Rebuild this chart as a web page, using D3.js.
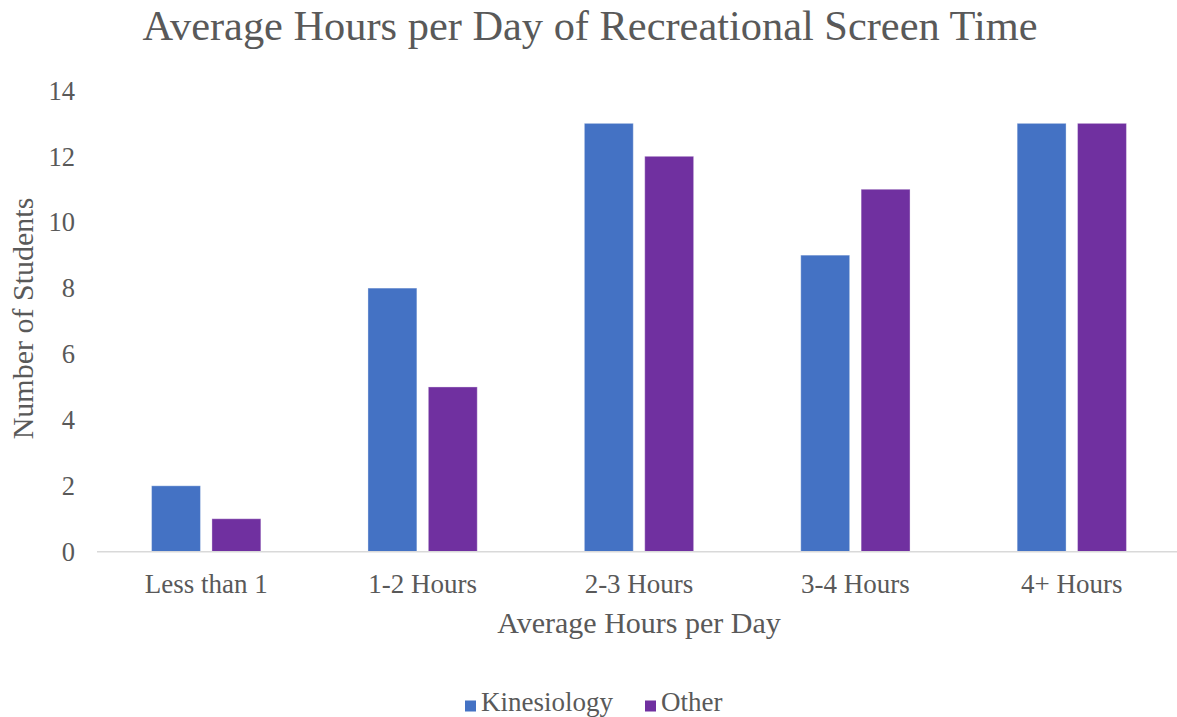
<!DOCTYPE html>
<html>
<head>
<meta charset="utf-8">
<script src="https://cdn.jsdelivr.net/npm/d3@7"></script>
<style>
  body { margin: 0; background: #fff; }
  text { font-family: "Liberation Serif", "Times New Roman", serif; fill: #595959; }
</style>
</head>
<body>
<svg id="chart"></svg>
<script>
const categories = ['Less than 1', '1-2 Hours', '2-3 Hours', '3-4 Hours', '4+ Hours'];
const seriesNames = ['Kinesiology', 'Other'];
const kinesiology = [2, 8, 13, 9, 13];
const other = [1, 5, 12, 11, 13];
const yTicks = [0, 2, 4, 6, 8, 10, 12, 14];
const colors = ['#4472C4', '#7030A0'];

const width = 1177,
    height = 717,
    plotLeft = 98,
    plotRight = 1180,
    plotTop = 90.4,
    plotBottom = 551.7;

var svg = d3.select('#chart')
    .attr('width', width)
    .attr('height', height);

var x = d3.scaleBand()
    .domain(categories)
    .range([plotLeft, plotRight]);

// two bars per category, ~49px wide with a small gap between them
var barW = x.bandwidth() * 0.226,
    barGap = x.bandwidth() * 0.053;

var y = d3.scaleLinear()
    .domain([0, 14])
    .range([plotBottom, plotTop]);

var rows = categories.map((c, i) => ({ cat: c, values: [kinesiology[i], other[i]] }));

// Title
svg.append('text')
    .attr('x', 590)
    .attr('y', 40)
    .attr('text-anchor', 'middle')
    .style('font-size', '42.4px')
    .text('Average Hours per Day of Recreational Screen Time');

// Y tick labels
svg.append('g')
    .selectAll('text')
    .data(yTicks)
    .join('text')
    .attr('x', 75)
    .attr('y', d => y(d))
    .attr('dy', '0.35em')
    .attr('text-anchor', 'end')
    .style('font-size', '26.5px')
    .text(d => d);

// Bars
var groups = svg.append('g')
    .selectAll('g')
    .data(rows)
    .join('g');

groups.selectAll('rect')
    .data(d => d.values.map((v, j) => ({ cat: d.cat, v: v, j: j })))
    .join('rect')
    .attr('x', d => {
        var c = x(d.cat) + x.bandwidth() / 2;
        return d.j === 0 ? c - barGap / 2 - barW : c + barGap / 2;
    })
    .attr('y', d => y(d.v))
    .attr('width', barW)
    .attr('height', d => y(0) - y(d.v))
    .attr('fill', d => colors[d.j])
    .attr('stroke', '#ffffff')
    .attr('stroke-opacity', 0.35)
    .attr('stroke-width', 1);

// Baseline
svg.append('line')
    .attr('x1', plotLeft - 1)
    .attr('x2', plotRight)
    .attr('y1', y(0))
    .attr('y2', y(0))
    .attr('stroke', '#d9d9d9')
    .attr('stroke-width', 1.5);

// X tick labels
svg.append('g')
    .selectAll('text')
    .data(categories)
    .join('text')
    .attr('x', d => x(d) + x.bandwidth() / 2)
    .attr('y', 593)
    .attr('text-anchor', 'middle')
    .style('font-size', '27px')
    .text(d => d);

// Axis titles
svg.append('text')
    .attr('x', 639)
    .attr('y', 633)
    .attr('text-anchor', 'middle')
    .style('font-size', '30px')
    .text('Average Hours per Day');

svg.append('text')
    .attr('transform', 'translate(33,318.5) rotate(-90)')
    .attr('text-anchor', 'middle')
    .style('font-size', '30px')
    .text('Number of Students');

// Legend
var legendX = [465, 645];
var legend = svg.append('g')
    .selectAll('g')
    .data(seriesNames)
    .join('g')
    .attr('transform', (d, i) => 'translate(' + legendX[i] + ',0)');

legend.append('rect')
    .attr('x', 0)
    .attr('y', 700.5)
    .attr('width', 11)
    .attr('height', 11)
    .attr('fill', (d, i) => colors[i]);

legend.append('text')
    .attr('x', 16)
    .attr('y', 711)
    .style('font-size', '27px')
    .text(d => d);
</script>
</body>
</html>
